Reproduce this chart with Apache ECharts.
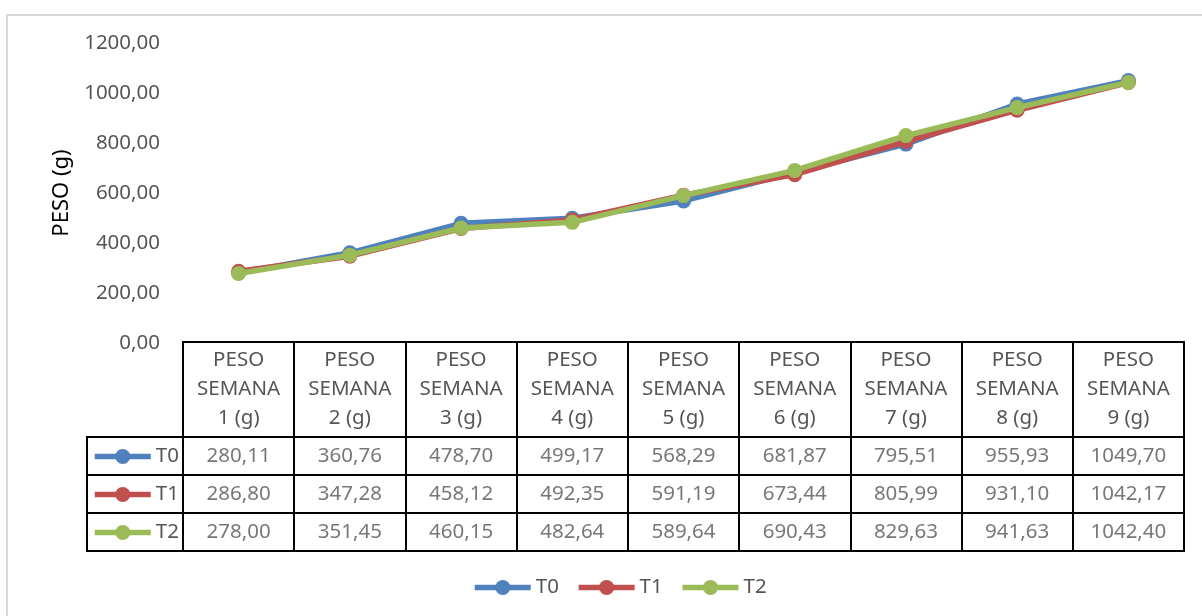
<!DOCTYPE html>
<html>
<head>
<meta charset="utf-8">
<script src="https://cdn.jsdelivr.net/npm/echarts@6/dist/echarts.min.js"></script>
<style>
  html, body { margin: 0; padding: 0; background: #fff; }
  #chart { width: 1202px; height: 616px; }
</style>
</head>
<body>
<div id="chart"></div>
<script>
// Data
const weeks = ["1", "2", "3", "4", "5", "6", "7", "8", "9"];
const categories = weeks.map((w) => "PESO\nSEMANA\n" + w + " (g)");
const seriesNames = ["T0", "T1", "T2"];
const t0Values = [280.11, 360.76, 478.7, 499.17, 568.29, 681.87, 795.51, 955.93, 1049.7];
const t1Values = [286.8, 347.28, 458.12, 492.35, 591.19, 673.44, 805.99, 931.1, 1042.17];
const t2Values = [278.0, 351.45, 460.15, 482.64, 589.64, 690.43, 829.63, 941.63, 1042.4];
const colors = ["#4F81BD", "#C0504D", "#9BBB59"];

const allValues = [t0Values, t1Values, t2Values];
const FONT = "Noto Sans";
const GRAY = "#555555";
const fmt = (v) => v.toFixed(2).replace(".", ",");

// cells of the data table: [column index, row name, value]
let tableCells = [];
allValues.forEach((vals, r) => {
  vals.forEach((v, i) => tableCells.push([i, seriesNames[r], v]));
});

let chart = echarts.init(document.getElementById("chart"));

let lineSeries = seriesNames.map((name, i) => ({
  name: name,
  type: "line",
  xAxisIndex: 0,
  yAxisIndex: 0,
  data: allValues[i],
  symbol: "circle",
  symbolSize: 15,
  lineStyle: { width: 5.5, color: colors[i] },
  itemStyle: { color: colors[i] },
  z: 3 + i,
}));

// one legend per key cell of the table, plus the bottom legend
let keyRowCenters = [456, 494, 532];
let legendBase = {
  selectedMode: false,
  itemWidth: 56,
  itemHeight: 19,
  padding: 0,
  lineStyle: { width: 5.5 },
  textStyle: { color: GRAY, fontFamily: FONT, fontSize: 20.5, lineHeight: 20 },
};
let legends = seriesNames.map((name, i) =>
  Object.assign({}, legendBase, {
    data: [name],
    left: 92,
    top: keyRowCenters[i] - 10,
  })
);
legends.push(
  Object.assign({}, legendBase, {
    data: seriesNames,
    left: 472,
    top: 577,
    itemGap: 17,
  })
);

let hiddenCat = (data, grid, extra) =>
  Object.assign(
    {
      type: "category",
      gridIndex: grid,
      data: data,
      axisLine: { show: false },
      axisTick: { show: false },
      axisLabel: { show: false },
      splitLine: { show: true, lineStyle: { color: "#000", width: 2 } },
    },
    extra || {}
  );

let option = {
  animation: false,
  backgroundColor: "#fff",
  graphic: [
    {
      type: "rect",
      shape: { x: 7, y: 15, width: 1220, height: 640 },
      style: { fill: "none", stroke: "#D9D9D9", lineWidth: 2 },
      silent: true,
    },
  ],
  legend: legends,
  grid: [
    // plot area
    { left: 183, right: 18, top: 43, bottom: 273 },
    // header row of the table
    { left: 183, right: 18, top: 342, height: 95, show: true, borderColor: "#000", borderWidth: 2 },
    // value rows of the table
    { left: 183, right: 18, top: 437, height: 114, show: true, borderColor: "#000", borderWidth: 2 },
    // legend key column
    { left: 87, width: 96, top: 437, height: 114, show: true, borderColor: "#000", borderWidth: 2 },
  ],
  xAxis: [
    {
      type: "category",
      gridIndex: 0,
      data: categories,
      boundaryGap: true,
      axisLine: { show: false },
      axisTick: { show: false },
      axisLabel: {
        interval: 0,
        margin: 3,
        color: GRAY,
        fontFamily: FONT,
        fontSize: 20.5,
        lineHeight: 29,
      },
    },
    hiddenCat(categories, 1),
    hiddenCat(categories, 2),
    hiddenCat([""], 3, { splitLine: { show: false } }),
  ],
  yAxis: [
    {
      type: "value",
      gridIndex: 0,
      min: 0,
      max: 1200,
      interval: 200,
      name: "PESO (g)",
      nameLocation: "middle",
      nameGap: 110,
      nameTextStyle: { color: "#000", fontFamily: FONT, fontSize: 22 },
      axisLine: { show: false },
      axisTick: { show: false },
      splitLine: { show: false },
      axisLabel: {
        margin: 23,
        color: GRAY,
        fontFamily: FONT,
        fontSize: 20.5,
        formatter: (v) => fmt(v),
      },
    },
    hiddenCat(["h"], 1, { splitLine: { show: false } }),
    hiddenCat(seriesNames, 2, { inverse: true }),
    hiddenCat(seriesNames, 3, { inverse: true }),
  ],
  series: lineSeries.concat([
    {
      name: "tabela",
      type: "scatter",
      xAxisIndex: 2,
      yAxisIndex: 2,
      data: tableCells,
      symbolSize: 1,
      itemStyle: { color: "rgba(0,0,0,0)" },
      silent: true,
      label: {
        show: true,
        position: "inside",
        color: GRAY,
        fontFamily: FONT,
        fontSize: 20.5,
        formatter: (p) => fmt(p.value[2]),
      },
    },
  ]),
};

chart.setOption(option);
</script>
</body>
</html>
